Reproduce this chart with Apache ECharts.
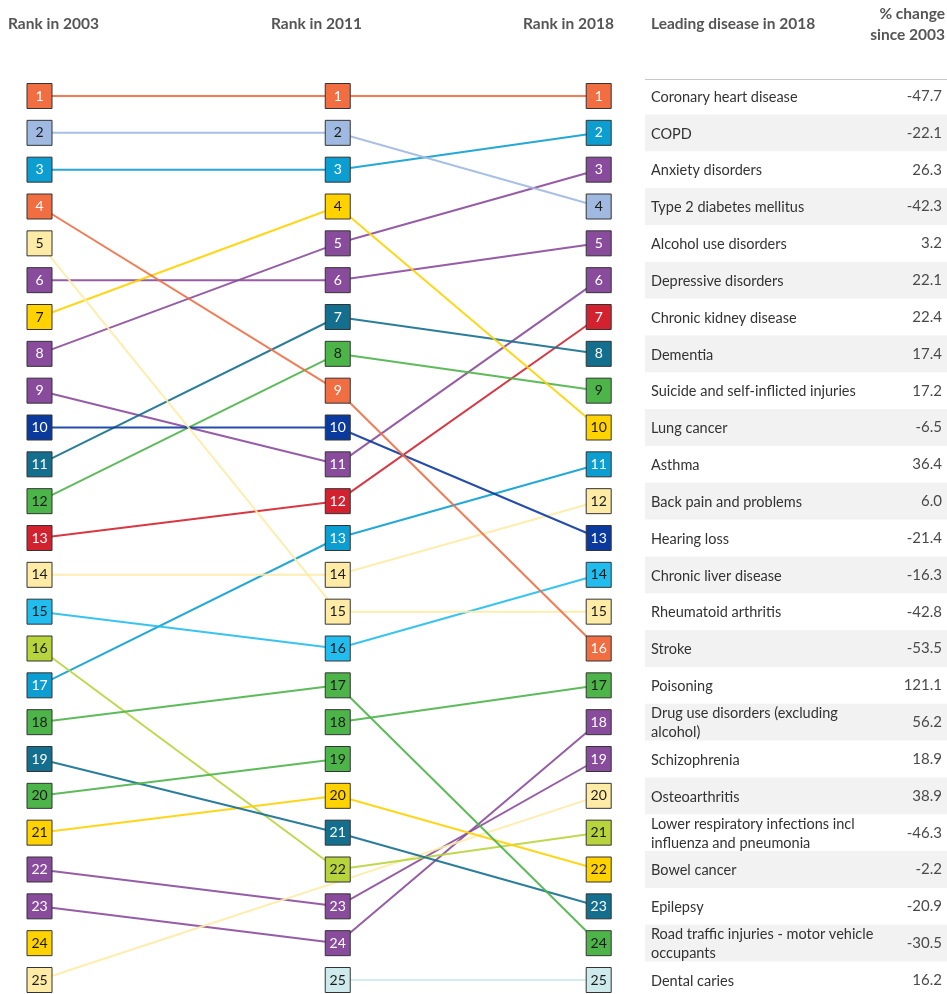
<!DOCTYPE html>
<html>
<head>
<meta charset="utf-8">
<script src="https://cdn.jsdelivr.net/npm/echarts@6/dist/echarts.min.js"></script>
<style>
  html, body { margin: 0; padding: 0; background: #fff; }
  #main { width: 947px; height: 994px; }
</style>
</head>
<body>
<div id="main"></div>
<script>
// columns
var years = [2003, 2011, 2018];

// diseases listed in 2018 order, then the two that left the top 25
var diseases = [
  'Coronary heart disease', 'COPD', 'Anxiety disorders', 'Type 2 diabetes mellitus',
  'Alcohol use disorders', 'Depressive disorders', 'Chronic kidney disease', 'Dementia',
  'Suicide and self-inflicted injuries', 'Lung cancer', 'Asthma', 'Back pain and problems',
  'Hearing loss', 'Chronic liver disease', 'Rheumatoid arthritis', 'Stroke', 'Poisoning',
  'Drug use disorders (excluding\nalcohol)', 'Schizophrenia', 'Osteoarthritis',
  'Lower respiratory infections incl\ninfluenza and pneumonia', 'Bowel cancer', 'Epilepsy',
  'Road traffic injuries - motor vehicle\noccupants', 'Dental caries',
  null, null
];
var rank2003 = [1, 3, 8, 2, 6, 9, 13, 11, 12, 7, 17, 14, 10, 15, 5, 4, null, 23, 22, 25, 16, 21, 19, 18, null, 20, 24];
var rank2011 = [1, 3, 5, 2, 6, 11, 12, 7, 8, 4, 13, 14, 10, 16, 15, 9, 18, 24, 23, null, 22, 20, 21, 17, 25, 19, null];
var rank2018 = [1, 2, 3, 4, 5, 6, 7, 8, 9, 10, 11, 12, 13, 14, 15, 16, 17, 18, 19, 20, 21, 22, 23, 24, 25, null, null];
var pctChange = [-47.7, -22.1, 26.3, -42.3, 3.2, 22.1, 22.4, 17.4, 17.2, -6.5, 36.4, 6.0, -21.4, -16.3,
  -42.8, -53.5, 121.1, 56.2, 18.9, 38.9, -46.3, -2.2, -20.9, -30.5, 16.2, null, null];
var groups = ['cardio', 'resp', 'mental', 'diabetes', 'mental', 'mental', 'kidney', 'neuro',
  'injury', 'cancer', 'resp', 'msk', 'hearing', 'liver', 'msk', 'cardio', 'injury', 'mental',
  'mental', 'msk', 'lri', 'cancer', 'neuro', 'injury', 'dental', 'injury', 'cancer'];

var groupColor = {
  cardio: '#F06E42', resp: '#0C9ED0', mental: '#894B9B', diabetes: '#A0B9E1',
  kidney: '#D3222F', neuro: '#146F8E', injury: '#4DB449', cancer: '#FFD200',
  msk: '#FDEBA6', hearing: '#0B3A9E', liver: '#22BDEF', lri: '#B8D43C', dental: '#CFEAEC'
};
var darkLabel = { diabetes: 1, injury: 1, cancer: 1, msk: 1, liver: 1, lri: 1, dental: 1 };

var FONT = 'Lato';
var chart = echarts.init(document.getElementById('main'));

var lineSeries = diseases.map(function (name, i) {
  var pts = [];
  [rank2003, rank2011, rank2018].forEach(function (r, k) {
    if (r[i] != null) pts.push([years[k], r[i]]);
  });
  return {
    type: 'line',
    data: pts,
    symbol: 'none',
    silent: true,
    z: 2,
    lineStyle: { color: groupColor[groups[i]], width: 2, opacity: 0.9 }
  };
});

var boxSeries = [rank2003, rank2011, rank2018].map(function (r, k) {
  var data = [];
  r.forEach(function (v, i) {
    if (v == null) return;
    data.push({
      value: [years[k], v],
      itemStyle: { color: groupColor[groups[i]] },
      label: { color: darkLabel[groups[i]] ? '#1a1a1a' : '#ffffff' }
    });
  });
  return {
    type: 'scatter',
    data: data,
    symbol: 'rect',
    symbolSize: 25,
    silent: true,
    z: 5,
    itemStyle: { borderColor: '#333', borderWidth: 1, opacity: 1 },
    label: {
      show: true, position: 'inside', fontFamily: FONT, fontSize: 14,
      formatter: function (p) { return p.value[1]; }
    }
  };
});

var tableRows = [];
rank2018.forEach(function (r, i) {
  if (r != null) tableRows.push([0, r, diseases[i], pctChange[i]]);
});

var tableSeries = {
  type: 'custom',
  xAxisIndex: 1,
  yAxisIndex: 1,
  silent: true,
  encode: { x: 0, y: 1 },
  data: tableRows,
  renderItem: function (params, api) {
    var row = tableRows[params.dataIndex];
    var p0 = api.coord([0, row[1]]);
    var p1 = api.coord([1, row[1]]);
    var h = api.size([0, 1])[1];
    var kids = [];
    if (row[1] % 2 === 0) {
      kids.push({
        type: 'rect',
        shape: { x: p0[0], y: p0[1] - h / 2, width: p1[0] - p0[0], height: h },
        style: { fill: '#f2f2f2' }
      });
    }
    kids.push({
      type: 'text',
      style: {
        x: p0[0] + 6, y: p0[1] + 1, text: row[2], fill: '#333', font: '14.5px ' + FONT,
        verticalAlign: 'middle', align: 'left', lineHeight: 19
      }
    });
    kids.push({
      type: 'text',
      style: {
        x: p1[0] - 5, y: p0[1], text: row[3].toFixed(1), fill: '#4a4a4a', font: '15px ' + FONT,
        verticalAlign: 'middle', align: 'right'
      }
    });
    return { type: 'group', children: kids };
  }
};

var headStyle = { fill: '#555', font: 'bold 15.5px ' + FONT };
function head(text, x, y, align) {
  return {
    type: 'text', x: x, y: y,
    style: Object.assign({ text: text, align: align || 'left', verticalAlign: 'middle' }, headStyle)
  };
}

var option = {
  animation: false,
  grid: [
    { left: 39.5, right: 348.3, top: 96, bottom: 14 },
    { left: 645, right: 0, top: 96, bottom: 14 }
  ],
  xAxis: [
    { type: 'value', min: 2003, max: 2018, show: false },
    { type: 'value', min: 0, max: 1, show: false, gridIndex: 1 }
  ],
  yAxis: [
    { type: 'value', min: 1, max: 25, inverse: true, show: false },
    { type: 'value', min: 1, max: 25, inverse: true, show: false, gridIndex: 1 }
  ],
  graphic: [
    head('Rank in 2003', 8, 24),
    head('Rank in 2011', 271, 24),
    head('Rank in 2018', 523, 24),
    head('Leading disease in 2018', 651, 24),
    head('% change', 945, 14, 'right'),
    head('since 2003', 945, 35, 'right'),
    {
      type: 'line', shape: { x1: 645, y1: 79.5, x2: 947, y2: 79.5 },
      style: { stroke: '#c8c8c8', lineWidth: 1 }
    }
  ],
  series: lineSeries.concat(boxSeries, [tableSeries])
};

chart.setOption(option);
</script>
</body>
</html>
